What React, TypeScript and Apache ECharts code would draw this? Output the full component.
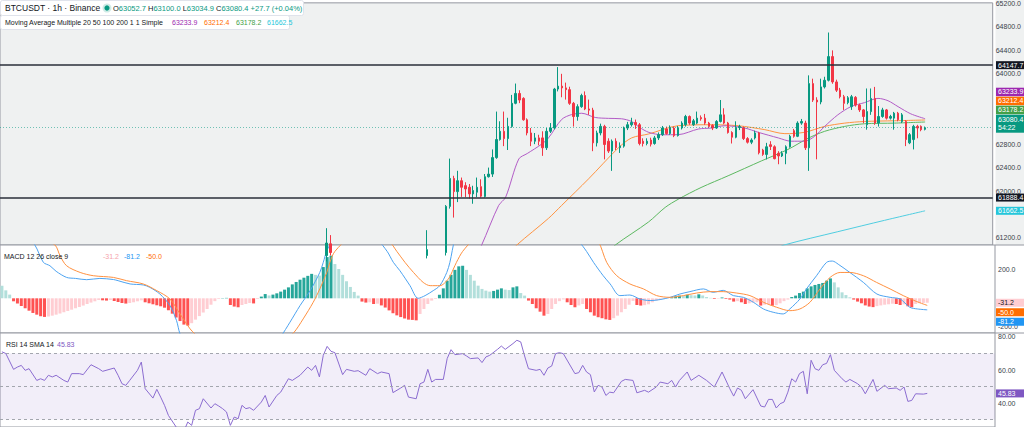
import React, { useEffect, useRef } from 'react';
import * as echarts from 'echarts';

// ---------- DATA ----------
const SLOT_COUNT = 257; // 240 hourly candles + empty right margin

// [index, open, close, low, high]
const candles: number[][] = [
  [84, 60900, 61113, 60800, 61366], [85, 61100, 60950, 60900, 61248], [110, 60900, 61000, 60850, 61332],
  [115, 60950, 61738, 60900, 61760], [116, 61738, 62215, 61700, 62553], [117, 62215, 61990, 61547, 62260],
  [118, 61990, 62176, 61811, 62345], [119, 62176, 62064, 61900, 62230], [120, 62092, 62036, 61895, 62150],
  [121, 62064, 61951, 61870, 62120], [122, 61951, 62008, 61783, 62090], [123, 61980, 62064, 61895, 62230],
  [124, 62075, 61912, 61890, 62200], [125, 61907, 62244, 61890, 62290], [126, 62244, 62289, 62230, 62400],
  [127, 62289, 62570, 62240, 62710], [128, 62570, 62879, 62550, 63356], [129, 62879, 63019, 62860, 63190],
  [130, 63019, 62895, 62766, 63356], [131, 62895, 63103, 62700, 63250], [132, 63103, 63497, 63080, 63640],
  [133, 63497, 63665, 63480, 63834], [134, 63665, 63553, 63500, 63720], [135, 63581, 63216, 63200, 63600],
  [136, 63216, 62991, 62950, 63240], [137, 62991, 62850, 62766, 63075], [138, 62850, 62907, 62800, 62990],
  [139, 62907, 62850, 62780, 62960], [140, 62907, 62738, 62600, 63019], [141, 62738, 63019, 62700, 63075],
  [142, 63019, 63075, 62990, 63160], [143, 63075, 63740, 63050, 63760], [144, 63740, 63790, 63700, 64115],
  [145, 63790, 63760, 63600, 64000], [146, 63760, 63730, 63560, 63850], [147, 63730, 63496, 63470, 63780],
  [148, 63496, 63271, 63100, 63520], [149, 63271, 63440, 63200, 63480], [150, 63440, 63630, 63420, 63660],
  [151, 63630, 63400, 63380, 63700], [152, 63400, 63380, 63300, 63560], [153, 63380, 62822, 62680, 63420],
  [154, 62822, 62991, 62760, 63030], [155, 62991, 63103, 62950, 63150], [156, 63103, 62794, 62540, 63130],
  [157, 62850, 62682, 62650, 62900], [158, 62682, 62850, 62344, 62880], [159, 62850, 62740, 62700, 62900],
  [160, 62740, 62770, 62650, 62830], [161, 62766, 63075, 62740, 63100], [162, 63075, 63131, 63040, 63180],
  [163, 63131, 63170, 63100, 63250], [164, 63170, 63131, 63060, 63220], [165, 63131, 62811, 62780, 63160],
  [166, 62850, 62811, 62760, 62900], [167, 62811, 62850, 62780, 62900], [168, 62870, 62800, 62760, 62910],
  [169, 62811, 62906, 62790, 62940], [170, 62906, 62962, 62870, 63000], [171, 62962, 63075, 62940, 63110],
  [172, 63058, 62980, 62960, 63100], [173, 62980, 63086, 62960, 63120], [174, 63075, 62946, 62920, 63100],
  [175, 62946, 63075, 62930, 63110], [176, 63075, 63159, 63050, 63190], [177, 63131, 63272, 63100, 63300],
  [178, 63272, 63159, 63130, 63290], [179, 63131, 63198, 63110, 63230], [180, 63159, 63244, 63140, 63356],
  [181, 63253, 63232, 63200, 63290], [182, 63244, 63159, 63130, 63316], [183, 63159, 63103, 63080, 63180],
  [184, 63120, 63075, 63040, 63140], [185, 63075, 63187, 63060, 63210], [186, 63187, 63300, 63170, 63553],
  [187, 63300, 63160, 63140, 63412], [188, 63160, 62998, 62980, 63180], [189, 62998, 62918, 62811, 63020],
  [190, 62918, 63086, 62900, 63190], [191, 63086, 63100, 63040, 63130], [192, 63075, 62895, 62870, 63100],
  [193, 62895, 62833, 62810, 62920], [194, 62833, 62870, 62800, 62900], [195, 62906, 62991, 62880, 63030],
  [196, 62991, 62653, 62625, 63010], [197, 62698, 62625, 62600, 62720], [198, 62625, 62755, 62540, 62822],
  [199, 62790, 62760, 62700, 62850], [200, 62755, 62552, 62541, 62780], [201, 62643, 62599, 62457, 62680],
  [202, 62599, 62643, 62580, 62680], [203, 62643, 62755, 62457, 62780], [204, 62755, 62934, 62740, 62960],
  [205, 63030, 62934, 62910, 63060], [206, 62934, 63159, 62920, 63190], [207, 63159, 63187, 63130, 63230],
  [208, 63159, 62738, 62700, 63200], [209, 62738, 63833, 62344, 63974], [210, 63833, 63552, 63520, 63917],
  [211, 63552, 63520, 62541, 63600], [212, 63520, 63777, 63480, 63917], [213, 63777, 63890, 63750, 63950],
  [214, 63890, 64294, 63870, 64705], [215, 64294, 63862, 63830, 64400], [216, 63862, 63721, 63690, 63900],
  [217, 63721, 63609, 63580, 63760], [218, 63609, 63496, 63384, 63640], [219, 63509, 63592, 63480, 63620],
  [220, 63440, 63609, 63384, 63640], [221, 63598, 63468, 63440, 63620], [222, 63468, 63384, 63350, 63490],
  [223, 63384, 63272, 63159, 63400], [224, 63131, 63356, 63047, 63750], [225, 63356, 63580, 63300, 63750],
  [226, 63580, 63159, 63130, 63777], [227, 63159, 63272, 63100, 63450], [228, 63272, 63384, 63250, 63420],
  [229, 63384, 63244, 63220, 63400], [230, 63244, 63272, 63220, 63300], [231, 63244, 63328, 63047, 63350],
  [232, 63328, 63216, 63190, 63350], [233, 63187, 63300, 63160, 63330], [234, 63187, 62878, 62766, 63210],
  [235, 62822, 62962, 62800, 62990], [236, 62878, 63103, 62710, 63130], [237, 63103, 63075, 62900, 63130],
  [238, 63103, 63047, 63020, 63120], [239, 63052.7, 63080.4, 63034.9, 63100.0],
];

// moving averages: [candle index, price]
const ma20: number[][] = [
  [122, 60800], [124.2, 61079], [128.6, 61754], [130.4, 61894], [133.8, 62546], [136, 62640], [139.7, 62799],
  [141.5, 62906], [144.9, 63221], [147.5, 63305], [150.1, 63327], [153.6, 63255], [157, 63240], [160.4, 63233],
  [163, 63187], [165, 63090], [167.5, 63000], [171, 62960], [175.1, 62962], [180.3, 63058], [183.6, 63075],
  [187.2, 63114], [192.3, 63075], [195.8, 63002], [201, 62906], [204.3, 62850], [207.8, 62850], [210.4, 62934],
  [213, 63103], [216.4, 63300], [219.8, 63440], [223.3, 63508], [226.8, 63581], [229.4, 63541], [232, 63440],
  [235.3, 63317], [239, 63233.9],
];
const ma50: number[][] = [
  [130, 60850], [133.3, 61079], [141.5, 61534], [144.9, 61754], [151.9, 62209], [159.6, 62737], [163, 62906],
  [167.4, 62973], [175.1, 63115], [183.6, 63131], [190.6, 63114], [197.5, 63047], [202.7, 62979], [207.8, 63002],
  [213, 63103], [218.2, 63159], [223.3, 63187], [231.1, 63199], [239, 63212.4],
];
const ma100: number[][] = [
  [156, 60900], [158.8, 61079], [167.4, 61472], [171.7, 61720], [175.1, 61860], [181, 62060], [188, 62260],
  [196.6, 62513], [203.5, 62710], [208.7, 62900], [213, 63019], [218.2, 63103], [223.3, 63148], [231.1, 63159],
  [239, 63178.2],
];
const ma200: number[][] = [
  [200, 61000], [202.5, 61079], [216.4, 61306], [228.5, 61500], [239, 61662.5],
];

const horizontalLevels = [64147.7, 61888.4];
const lastPrice = 63080.4;
const maLast = [63233.9, 63212.4, 63178.2, 61662.5];

// MACD histogram, one bar per candle
const macdHist: number[] = [
  89, 56, 26, -21, -37, -54, -70, -87, -103, -115, -126, -131, -128, -122, -115, -107, -98, -89, -80, -70,
  -61, -51, -40, -30, -21, -12, -14, -16, -12, -19, -26, -33, -37, -33, -28, -21, -14, -28, -35, -42,
  -49, -56, -66, -84, -108, -135, -160, -185, -192, -175, -150, -125, -100, -75, -45, -20, -5, 2, 3, -47,
  -58, -63, -47, -40, -33, -36, -5, 12, 30, 20, 26, 35, 47, 61, 77, 98, 115, 131, 145, 158,
  172, 165, 160, 220, 290, 300, 241, 206, 165, 120, 80, 45, 19, -23, -30, -28, -40, -38, -50, -65,
  -85, -105, -120, -132, -142, -150, -152, -155, -110, -75, -40, -16, -5, 25, 70, 124, 165, 200, 225, 229,
  200, 165, 124, 89, 66, 54, 47, 52, 61, 70, 61, 58, 77, 84, 37, 19, -16, -40, -70, -94,
  -122, -110, -75, -40, -20, -8, -28, -47, -63, -50, -40, -75, -98, -122, -133, -140, -148, -152, -140, -122,
  -98, -75, -45, -18, -47, -51, -48, -42, -28, -16, -9, -5, -1, 7, 14, 19, 16, 25, 22, 20,
  28, 20, 9, 3, -5, -3, 6, -5, -9, -23, -20, -28, -40, -35, -30, -28, -51, -45, -40, -52,
  -48, -35, -20, -9, 9, 19, 37, 47, 70, 84, 94, 101, 108, 124, 140, 112, 77, 42, 23, 7,
  -9, -23, -35, -50, -58, -62, -55, -50, -45, -42, -38, -40, -47, -42, -56, -63, -40, -34, -32.5, -31.2,
];
const macdLine: number[][] = [
  [0, 650], [4, 520], [8.5, 375], [10.7, 253], [12.4, 229], [14, 190], [16.7, 147], [19, 140], [21.9, 131],
  [25.3, 140], [28.8, 132], [30, 124], [33.1, 101], [36.5, 94], [38.2, 77], [40.8, 30], [43.4, -51], [45.1, -157],
  [46, -250], [48, -350], [50, -400], [52, -412], [54, -415], [56, -420], [58, -418], [60, -470], [62, -462],
  [64, -445], [66, -410], [68, -380], [70, -330], [72, -270], [74.4, -168], [77, -51], [79.6, 54], [82.1, 182],
  [83, 253], [84, 340], [86, 430], [89, 480], [93, 470], [97, 410], [99.5, 330], [101.1, 253], [102.8, 194],
  [105.4, 89], [107.5, 0], [109.3, 19], [111.4, 54], [113.1, 89], [114.9, 182], [115.7, 253], [117, 420],
  [119, 560], [122, 580], [126, 570], [130, 600], [134, 640], [138, 580], [142, 500], [146, 470], [149, 400],
  [151, 330], [152.8, 253], [155.3, 159], [157.1, 101], [159.6, 19], [162.2, 23], [164.8, -5], [167.4, -16],
  [170, -9], [172.6, 7], [175.1, 30], [177.7, 47], [181.2, 66], [183.7, 42], [186.3, 56], [188.9, 19], [191.5, 7],
  [194.1, -28], [196.7, -75], [199.2, -98], [201.8, -110], [203.5, -75], [206.1, -5], [207.8, 66], [210.4, 159],
  [213, 253], [214.5, 262], [216, 240], [219, 182], [222.5, 112], [226, 30], [229.4, 7], [232, -5], [234.5, -63],
  [236.5, -75], [239, -81.2],
];
const signalLine: number[][] = [
  [0, 600], [5, 500], [10, 420], [13.7, 375], [15, 300], [16.7, 229], [20.2, 182], [23.6, 159], [28.8, 147],
  [32.2, 124], [36.5, 101], [40, 54], [43.4, -5], [46, -110], [48.6, -215], [50, -255], [52, -310], [54, -370],
  [56, -410], [58, -418], [60, -415], [62, -413], [64, -410], [66, -405], [68, -395], [70, -360], [72, -320],
  [75.3, -244], [77.8, -145], [80.4, -28], [82.1, 66], [83.9, 182], [84.7, 253], [86, 330], [90, 430], [95, 460],
  [100, 400], [102, 330], [104.1, 253], [106.3, 182], [108.8, 112], [110.6, 89], [113.1, 89], [115.3, 136],
  [116.6, 206], [117.4, 253], [119, 330], [122, 420], [126, 510], [132, 540], [138, 600], [144, 560], [150, 500],
  [154, 400], [156.2, 253], [158.8, 159], [162.2, 101], [165.7, 66], [169.1, 19], [172.6, 7], [176, 19],
  [179.4, 37], [182.9, 47], [186.3, 47], [189.8, 37], [193.2, 19], [196.7, -28], [200.1, -63], [203.5, -87],
  [206.1, -75], [208.7, -28], [211.3, 66], [213.9, 147], [216.5, 182], [219, 182], [222.5, 159], [225.9, 112],
  [229.4, 66], [232.8, 19], [236.3, -23], [239, -50],
];
const macdLast = { hist: -31.2, macd: -81.2, signal: -50.0 };

const rsiLine: number[][] = [
  [0, 71], [1, 70], [3, 60.4], [4, 61.8], [5, 62.8], [6, 59.8], [7, 60.8], [9, 53.7], [10, 54.7], [11, 53.7],
  [12, 56.8], [13, 55.8], [14, 56.8], [16, 53.7], [17, 52.7], [18, 57.8], [20, 57.8], [21, 57.2], [23, 63.2],
  [25, 60.8], [26, 59.2], [29, 61.2], [30, 56.8], [31, 51.7], [32, 50.7], [33, 53.7], [35, 59.8], [36, 64.8],
  [37, 48.7], [39, 43.0], [40, 48.3], [41, 43.6], [42, 38.6], [43, 32.5], [45, 25.5], [46, 21], [47, 23],
  [48, 28.5], [49, 26.5], [50, 35.6], [51, 36.6], [52, 42.6], [54, 37], [55, 39.6], [56, 38.2], [57, 36.6],
  [58, 34.6], [59, 26.5], [60, 31.5], [61, 30.5], [62, 38.6], [63, 36.6], [64, 37.2], [65, 35.6], [67, 40.6],
  [68, 44.6], [69, 37.6], [71, 44.6], [72, 46.6], [74, 54.7], [75, 53.7], [77, 56.8], [79, 61.8], [80, 59.8],
  [81, 62.8], [82, 55.8], [83, 68.9], [84, 74.3], [85, 71.3], [86, 70.5], [88, 57.2], [89, 60.4], [91, 59.2],
  [92, 59.6], [94, 56.8], [95, 60.8], [97, 57.8], [98, 58.8], [100, 57.8], [101, 46.3], [103, 49.1], [104, 50.7],
  [105, 43.6], [107, 42.6], [108, 51.7], [109, 52.7], [110, 60.4], [111, 52.7], [112, 54.3], [114, 54.3],
  [115, 66.9], [116, 72.3], [117, 69.3], [119, 69.9], [120, 68.5], [121, 66.9], [123, 67.3], [124, 64.5],
  [125, 67.9], [126, 68.9], [128, 72.5], [129, 74.5], [130, 72.5], [132, 76], [133, 78], [134, 77], [135, 68.5],
  [136, 60.8], [138, 59.8], [139, 60.4], [140, 56.8], [141, 61.2], [142, 62.4], [143, 69.9], [144, 70.5],
  [145, 69.9], [148, 57.8], [149, 58.4], [150, 62.8], [151, 58.8], [152, 57.2], [153, 46.7], [154, 50.7],
  [155, 49.7], [156, 44.6], [157, 46.6], [158, 46.2], [160, 53.1], [161, 54.3], [163, 53.7], [164, 46.2],
  [166, 47.7], [167, 46.6], [169, 49.7], [170, 52.7], [172, 51.7], [173, 53.7], [174, 49.7], [175, 53.7],
  [177, 58.8], [178, 53.7], [180, 56.8], [182, 53.7], [184, 49.7], [186, 58.8], [188, 48.7], [189, 44.2],
  [190, 49.1], [191, 47.7], [192, 42.6], [194, 48.1], [196, 38.2], [197, 37.6], [198, 42.2], [199, 42.2],
  [200, 37], [201, 39.6], [202, 40.6], [203, 46.6], [204, 54.7], [205, 52.7], [206, 57.8], [207, 59.2],
  [208, 45.6], [209, 65.9], [210, 60.8], [211, 59.8], [212, 63.2], [213, 64], [214, 69.3], [215, 59.8],
  [217, 54.7], [218, 52.7], [219, 54.3], [221, 51.7], [222, 49.7], [223, 45.6], [225, 54.3], [226, 47.1],
  [228, 50.7], [229, 48.7], [231, 49.1], [232, 47.7], [233, 49.7], [234, 41], [235, 41.6], [236, 45.6],
  [238, 45.4], [239, 45.83],
];
const rsiLast = 45.83;
const rsiLevels = [70, 50, 30];

// visible scale labels (the ones hidden behind the value boxes are left out)
const priceTicks = [61200, 62000, 62400, 62800, 64000, 64400, 64800, 65200];
const macdTicks = [-200, 200];
const rsiTicks = [40, 60, 80];

// ---------- STYLE ----------
const FONT = '"Liberation Sans", Arial, sans-serif';
const UP = '#089981';
const DOWN = '#f23645';
const MA_COLORS = ['#b25cc6', '#ff9340', '#5cb860', '#4fcde0'];
const MA_BOX = ['#9c27b0', '#ff6d00', '#43a047', '#26c6da'];
const MACD_BLUE = '#4da3f0';
const SIGNAL_ORANGE = '#ff9140';
const RSI_PURPLE = '#8b6cd0';
const TEXT = '#131722';
const AXIS_TEXT = '#3b3f4a';
const BORDER = '#9598a1';
const MAIN_BG = '#eff1f1';

export default function App() {
  const ref = useRef<HTMLDivElement>(null);

  useEffect(() => {
    if (!ref.current) return;
    const chart = echarts.init(ref.current, null, { renderer: 'svg' });

    const cats = Array.from({ length: SLOT_COUNT }, (_, i) => String(i));
    const candleData: any[] = cats.map(() => '-');
    candles.forEach(([i, o, c, l, h]) => { candleData[i] = [o, c, l, h]; });

    const histData = macdHist.map((v, i) => {
      const prev = i > 0 ? macdHist[i - 1] : Infinity;
      let color;
      if (v >= 0) color = v > prev ? '#26a69a' : '#b2dfdb';
      else color = v < prev ? '#ff5252' : '#ffcdd2';
      return { value: v, itemStyle: { color } };
    });

    const valueX = (gridIndex: number) => ({
      type: 'value', gridIndex, min: -0.5, max: SLOT_COUNT - 0.5, show: false,
    });
    const catX = (gridIndex: number) => ({
      type: 'category', gridIndex, data: cats, show: false, boundaryGap: true,
    });
    const yLabel = (decimals: number, ticks: number[]) => ({
      show: true, inside: false, margin: 3, fontSize: 7, color: AXIS_TEXT, fontFamily: FONT,
      customValues: ticks, formatter: (v: number) => v.toFixed(decimals), align: 'left',
    });

    const maLine = (data: number[][], color: string) => ({
      type: 'line', xAxisIndex: 1, yAxisIndex: 0, data, showSymbol: false, symbol: 'none',
      smooth: 0.3, lineStyle: { color, width: 1 }, z: 3, silent: true,
    });

    const option: any = {
      animation: false,
      backgroundColor: '#ffffff',
      grid: [
        { left: 0, top: 0, right: 29, height: 245, show: true, backgroundColor: MAIN_BG, borderColor: BORDER, borderWidth: 1 },
        { left: 0, top: 245, right: 29, height: 88, show: true, backgroundColor: '#ffffff', borderColor: BORDER, borderWidth: 1 },
        { left: 0, top: 333, right: 29, height: 94, show: true, backgroundColor: '#ffffff', borderColor: BORDER, borderWidth: 1 },
      ],
      xAxis: [catX(0), valueX(0), catX(1), valueX(1), valueX(2)],
      yAxis: [
        { type: 'value', gridIndex: 0, position: 'right', min: 61079, max: 65211, scale: true,
          axisLabel: yLabel(1, priceTicks), axisTick: { show: false }, axisLine: { show: false }, splitLine: { show: false } },
        { type: 'value', gridIndex: 1, position: 'right', min: -244, max: 375,
          axisLabel: yLabel(1, macdTicks), axisTick: { show: false }, axisLine: { show: false }, splitLine: { show: false } },
        { type: 'value', gridIndex: 2, position: 'right', min: 25.5, max: 82.4,
          axisLabel: yLabel(2, rsiTicks), axisTick: { show: false }, axisLine: { show: false }, splitLine: { show: false } },
      ],
      series: [
        {
          type: 'candlestick', xAxisIndex: 0, yAxisIndex: 0, data: candleData, barWidth: 2,
          itemStyle: { color: UP, color0: DOWN, borderColor: UP, borderColor0: DOWN, borderWidth: 1 },
          z: 4, silent: true,
          markLine: {
            silent: true, symbol: 'none', animation: false, label: { show: false },
            data: [
              { yAxis: horizontalLevels[0], lineStyle: { color: '#2a2e39', width: 1.5, type: 'solid' } },
              { yAxis: horizontalLevels[1], lineStyle: { color: '#2a2e39', width: 1.5, type: 'solid' } },
              { yAxis: lastPrice, lineStyle: { color: UP, width: 1, type: [1, 2], opacity: 0.55 } },
            ],
          },
        },
        maLine(ma200, MA_COLORS[3]),
        maLine(ma100, MA_COLORS[2]),
        maLine(ma50, MA_COLORS[1]),
        maLine(ma20, MA_COLORS[0]),
        { type: 'bar', xAxisIndex: 2, yAxisIndex: 1, data: histData, barWidth: 3, silent: true, z: 2 },
        { type: 'line', xAxisIndex: 3, yAxisIndex: 1, data: macdLine, showSymbol: false, symbol: 'none',
          smooth: 0.3, lineStyle: { color: MACD_BLUE, width: 1 }, z: 3, silent: true },
        { type: 'line', xAxisIndex: 3, yAxisIndex: 1, data: signalLine, showSymbol: false, symbol: 'none',
          smooth: 0.3, lineStyle: { color: SIGNAL_ORANGE, width: 1 }, z: 3, silent: true },
        {
          type: 'line', xAxisIndex: 4, yAxisIndex: 2, data: rsiLine, showSymbol: false, symbol: 'none',
          lineStyle: { color: RSI_PURPLE, width: 1 }, z: 3, silent: true,
          markArea: { silent: true, itemStyle: { color: 'rgba(126,87,194,0.1)' },
            data: [[{ yAxis: rsiLevels[0] }, { yAxis: rsiLevels[2] }]] },
          markLine: { silent: true, symbol: 'none', label: { show: false },
            lineStyle: { color: '#a3a6ae', width: 1, type: [3, 3] },
            data: rsiLevels.map((v) => ({ yAxis: v })) },
        },
      ],
    };
    chart.setOption(option);

    const py = (v: number) => chart.convertToPixel({ yAxisIndex: 0 } as any, v) as number;
    const my = (v: number) => chart.convertToPixel({ yAxisIndex: 1 } as any, v) as number;
    const ry = (v: number) => chart.convertToPixel({ yAxisIndex: 2 } as any, v) as number;

    const AX = 996;
    const AW = 28;
    const box = (top: number, h: number, fill: string, text: string, color = '#ffffff') => [
      { type: 'rect', shape: { x: AX, y: top, width: AW, height: h }, style: { fill }, z: 100 },
      { type: 'text', x: AX + 2, y: top + h / 2, style: { text, fill: color, fontSize: 7, fontFamily: FONT, verticalAlign: 'middle', align: 'left' }, z: 101 },
    ];
    const t = (x: number, y: number, text: string, fill: string, size = 7.5) => ({
      type: 'text', x, y, style: { text, fill, fontSize: size, fontFamily: FONT, verticalAlign: 'middle', align: 'left' }, z: 101,
    });

    const pY = py(lastPrice);
    const priceTop = pY - 13;
    const mTop = my(macdLast.hist) - 4;

    const graphics: any[] = [
      // price-scale background of the main pane and pane separators across the scale
      { type: 'rect', shape: { x: 995.5, y: 0, width: 29, height: 245 }, style: { fill: MAIN_BG }, z: -10 },
      { type: 'line', shape: { x1: 995, y1: 245, x2: 1024, y2: 245 }, style: { stroke: BORDER, lineWidth: 1 }, z: 99 },
      { type: 'line', shape: { x1: 995, y1: 333, x2: 1024, y2: 333 }, style: { stroke: BORDER, lineWidth: 1 }, z: 99 },
      // legend backgrounds
      { type: 'rect', shape: { x: 0.5, y: 0.5, width: 303, height: 15, r: 2 }, style: { fill: '#ffffff', stroke: '#e0e3eb' }, z: 98 },
      { type: 'rect', shape: { x: 0.5, y: 15.5, width: 289, height: 14, r: 2 }, style: { fill: '#ffffff', stroke: '#e0e3eb' }, z: 98 },
      t(5, 8, 'BTCUSDT · 1h · Binance', TEXT, 8.5),
      { type: 'circle', shape: { cx: 107, cy: 8, r: 4.5 }, style: { fill: 'rgba(8,153,129,0.2)' }, z: 101 },
      { type: 'circle', shape: { cx: 107, cy: 8, r: 2.6 }, style: { fill: UP }, z: 102 },
      {
        type: 'text', x: 113, y: 8, z: 101,
        style: {
          text: '{l|O}{v|63052.7} {l|H}{v|63100.0} {l|L}{v|63034.9} {l|C}{v|63080.4} {v|+27.7 (+0.04%)}',
          fontSize: 7.5, fontFamily: FONT, verticalAlign: 'middle', align: 'left',
          rich: { l: { fill: TEXT, fontSize: 7.5, fontFamily: FONT }, v: { fill: UP, fontSize: 7.5, fontFamily: FONT } },
        },
      },
      t(5, 22, 'Moving Average Multiple 20 50 100 200 1 1 Simple', TEXT, 7),
      t(172, 22, maLast[0].toFixed(1), MA_BOX[0], 7),
      t(204, 22, maLast[1].toFixed(1), MA_BOX[1], 7),
      t(236, 22, maLast[2].toFixed(1), MA_BOX[2], 7),
      t(267, 22, maLast[3].toFixed(1), MA_BOX[3], 7),
      // MACD legend
      t(4, 256, 'MACD 12 26 close 9', TEXT, 7),
      t(103, 256, macdLast.hist.toFixed(1), '#f5a3aa', 7),
      t(124, 256, macdLast.macd.toFixed(1), '#2196f3', 7),
      t(146, 256, macdLast.signal.toFixed(1), '#ff6d00', 7),
      // RSI legend
      t(6, 344, 'RSI 14 SMA 14', TEXT, 7),
      t(57, 344, rsiLast.toFixed(2), '#7e57c2', 7),
      // price scale boxes
      ...box(py(horizontalLevels[0]) - 4, 8, '#131722', horizontalLevels[0].toFixed(1)),
      ...box(py(horizontalLevels[1]) - 4, 8, '#131722', horizontalLevels[1].toFixed(1)),
      ...box(py(maLast[3]) - 4, 8, MA_BOX[3], maLast[3].toFixed(1)),
      ...box(priceTop - 27, 8.5, MA_BOX[0], maLast[0].toFixed(1)),
      ...box(priceTop - 18, 8.5, MA_BOX[1], maLast[1].toFixed(1)),
      ...box(priceTop - 9, 8.5, MA_BOX[2], maLast[2].toFixed(1)),
      { type: 'rect', shape: { x: AX, y: priceTop, width: AW, height: 18 }, style: { fill: UP }, z: 100 },
      { type: 'text', x: AX + 2, y: priceTop + 4.5, style: { text: lastPrice.toFixed(1), fill: '#fff', fontSize: 7, fontFamily: FONT, verticalAlign: 'middle' }, z: 101 },
      { type: 'text', x: AX + 2, y: priceTop + 13, style: { text: '54:22', fill: '#fff', fontSize: 7, fontFamily: FONT, verticalAlign: 'middle' }, z: 101 },
      // MACD scale boxes
      ...box(mTop, 8, '#ffcdd2', macdLast.hist.toFixed(1), '#131722'),
      ...box(mTop + 9.5, 8, '#ff6d00', macdLast.signal.toFixed(1)),
      ...box(mTop + 19, 8, '#2196f3', macdLast.macd.toFixed(1)),
      // RSI scale box
      ...box(ry(rsiLast) - 4, 8, '#7e57c2', rsiLast.toFixed(2)),
    ];
    chart.setOption({ graphic: graphics });

    return () => chart.dispose();
  }, []);

  return (
    <div
      ref={ref}
      style={{ position: 'fixed', left: 0, top: 0, width: 1024, height: 427, background: '#fff' }}
    />
  );
}
